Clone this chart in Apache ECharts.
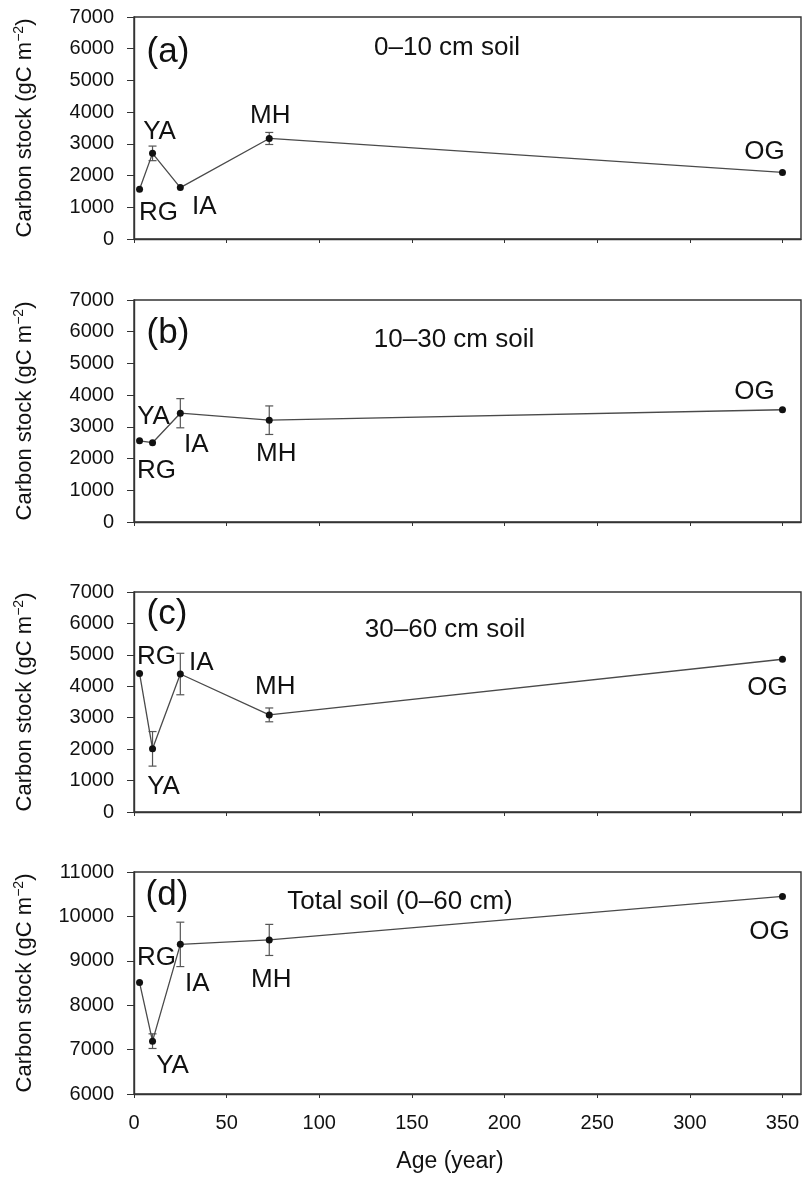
<!DOCTYPE html>
<html>
<head>
<meta charset="utf-8">
<script src="https://cdn.jsdelivr.net/npm/echarts@6/dist/echarts.min.js"></script>
<style>
  html, body { margin: 0; padding: 0; background: #fff; }
  #chart { width: 803px; height: 1177px; }
</style>
</head>
<body>
<div id="chart"></div>
<script>
// ---- data ----
const ages = [3, 10, 25, 73, 350];
const sites = ['RG', 'YA', 'IA', 'MH', 'OG'];
const stockA = [1570, 2700, 1620, 3170, 2100];
const errA   = [0, 230, 0, 190, 0];
const stockB = [2560, 2500, 3430, 3210, 3540];
const errB   = [0, 0, 460, 450, 0];
const stockC = [4410, 2010, 4390, 3090, 4860];
const errC   = [0, 550, 660, 220, 0];
const stockD = [8510, 7190, 9370, 9470, 10450];
const errD   = [0, 165, 500, 350, 0];
const xTicks = [0, 50, 100, 150, 200, 250, 300, 350];
const panelLetters = ['(a)', '(b)', '(c)', '(d)'];
const panelTitles = ['0\u201310 cm soil', '10\u201330 cm soil', '30\u201360 cm soil', 'Total soil (0\u201360 cm)'];
const yRanges = [[0, 7000], [0, 7000], [0, 7000], [6000, 11000]];

// ---- layout / style (not data) ----
const FONT = '"Liberation Sans", Arial, sans-serif';
const TXT = '#111';
const AX = '#333';
const grids = [
  { left: 134, top: 17, width: 667, height: 222 },
  { left: 134, top: 300, width: 667, height: 222 },
  { left: 134, top: 592, width: 667, height: 220 },
  { left: 134, top: 872, width: 667, height: 222 }
];
const labelOffsets = [
  [[19, 24], [7, -22], [24, 19], [1, -23], [-18, -21]],
  [[17, 30], [1, -26], [16, 32], [7, 34], [-28, -18]],
  [[17, -17], [11, 38], [21, -11], [6, -28], [-15, 29]],
  [[17, -25], [20, 25], [17, 39], [2, 40], [-13, 35]]
];
const letterPos = [[168, 52], [168, 333], [167, 614], [167, 895]];
const titlePos = [[447, 48], [454, 340], [445, 630], [400, 902]];

const stocks = [stockA, stockB, stockC, stockD];
const errs = [errA, errB, errC, errD];

const option = {
  animation: false,
  backgroundColor: '#fff',
  grid: grids.map(g => Object.assign({ show: true, borderColor: AX, borderWidth: 1.4, backgroundColor: 'transparent' }, g)),
  xAxis: grids.map((g, i) => ({
    type: 'value', gridIndex: i, min: 0, max: 360, interval: 50,
    axisLine: { show: true, lineStyle: { color: AX, width: 1.4 } },
    axisTick: { show: true, length: 4, inside: false, customValues: xTicks, lineStyle: { color: AX } },
    axisLabel: { show: i === 3, customValues: xTicks, margin: 19, fontSize: 20, fontFamily: FONT, color: TXT,
                 formatter: v => String(v) },
    splitLine: { show: false }
  })),
  yAxis: grids.map((g, i) => ({
    type: 'value', gridIndex: i, min: yRanges[i][0], max: yRanges[i][1], interval: 1000,
    axisLine: { show: true, lineStyle: { color: AX, width: 1.4 } },
    axisTick: { show: true, length: 7, inside: false, lineStyle: { color: AX } },
    axisLabel: { margin: 20, fontSize: 20, fontFamily: FONT, color: TXT, formatter: v => String(v) },
    splitLine: { show: false },
    name: '{a|Carbon stock (gC m}{s|\u22122}{a|)}',
    nameLocation: 'middle', nameRotate: 90, nameGap: 96,
    nameTextStyle: {
      color: TXT,
      rich: {
        a: { fontSize: 22, fontFamily: FONT, color: TXT, lineHeight: 26 },
        s: { fontSize: 14, fontFamily: FONT, color: TXT, verticalAlign: 'top', lineHeight: 26 }
      }
    }
  })),
  series: [],
  graphic: []
};

stocks.forEach((vals, p) => {
  option.series.push({
    type: 'custom', xAxisIndex: p, yAxisIndex: p, z: 3,
    data: ages.map((a, i) => [a, vals[i], errs[p][i]]),
    renderItem: function (params, api) {
      const x = api.value(0), y = api.value(1), e = api.value(2);
      if (!e) return null;
      const top = api.coord([x, y + e]);
      const bot = api.coord([x, y - e]);
      const w = 4;
      const st = { stroke: '#555', lineWidth: 1.2 };
      return {
        type: 'group',
        children: [
          { type: 'line', shape: { x1: top[0], y1: top[1], x2: bot[0], y2: bot[1] }, style: st },
          { type: 'line', shape: { x1: top[0] - w, y1: top[1], x2: top[0] + w, y2: top[1] }, style: st },
          { type: 'line', shape: { x1: bot[0] - w, y1: bot[1], x2: bot[0] + w, y2: bot[1] }, style: st }
        ]
      };
    }
  });
  option.series.push({
    type: 'line', xAxisIndex: p, yAxisIndex: p, z: 4,
    symbol: 'circle', symbolSize: 7,
    itemStyle: { color: '#111' },
    lineStyle: { color: '#4a4a4a', width: 1.3 },
    data: ages.map((a, i) => ({
      value: [a, vals[i]],
      label: {
        show: true, position: 'inside', offset: labelOffsets[p][i],
        formatter: sites[i], fontSize: 26, fontFamily: FONT, color: TXT
      }
    }))
  });
  option.graphic.push({
    type: 'text', x: letterPos[p][0], y: letterPos[p][1], z: 10,
    style: { text: panelLetters[p], font: '35px ' + FONT, fill: TXT, align: 'center', verticalAlign: 'middle' }
  });
  option.graphic.push({
    type: 'text', x: titlePos[p][0], y: titlePos[p][1], z: 10,
    style: { text: panelTitles[p], font: '26px ' + FONT, fill: TXT, align: 'center', verticalAlign: 'middle' }
  });
});

option.graphic.push({
  type: 'text', x: 450, y: 1162, z: 10,
  style: { text: 'Age (year)', font: '23px ' + FONT, fill: TXT, align: 'center', verticalAlign: 'middle' }
});

const chart = echarts.init(document.getElementById('chart'), null, { renderer: 'canvas' });
chart.setOption(option);
</script>
</body>
</html>
